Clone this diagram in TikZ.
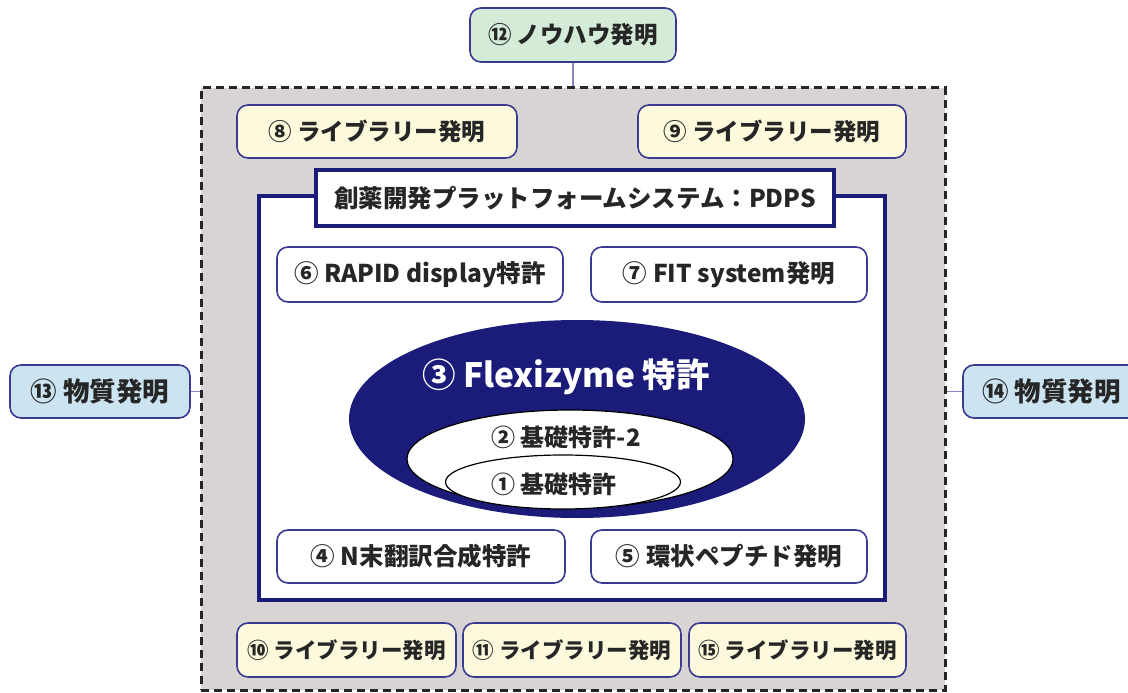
\documentclass[tikz,border=0pt]{standalone}
\usepackage{fontspec}
\setmainfont{Noto Sans CJK JP}
\usetikzlibrary{shapes.geometric}
\definecolor{navy}{HTML}{1B1B7A}
\definecolor{boxline}{HTML}{3A3A90}
\definecolor{grayfill}{HTML}{D8D4D4}
\definecolor{yel}{HTML}{FDF9DC}
\definecolor{grn}{HTML}{D4EBD8}
\definecolor{blu}{HTML}{CCE4F2}
\definecolor{conn}{HTML}{8A86C4}
\tikzset{
  box/.style={draw=boxline, line width=1.6pt, rounded corners=11pt, inner sep=0pt, font=\fontsize{23.5}{26}\selectfont\bfseries, text=black!85},
  libbox/.style={box, fill=yel, minimum height=53pt},
  inbox/.style={box, fill=white, minimum height=55pt, font=\fontsize{24.5}{27}\selectfont\bfseries},
  lowbox/.style={libbox, minimum height=54pt, font=\fontsize{21.5}{24}\selectfont\bfseries},
  sidebox/.style={box, fill=blu, minimum height=53pt, font=\fontsize{26.5}{29}\selectfont\bfseries},
  conline/.style={draw=conn, line width=1.3pt},
  elltext/.style={font=\fontsize{24}{27}\selectfont\bfseries, text=black!85},
}
\begin{document}
\begin{tikzpicture}[x=1pt,y=-1pt]
\useasboundingbox (0,0) rectangle (1128,693);
% outer dashed region
\node[draw=black!85, fill=grayfill, line width=3pt, dash pattern=on 8pt off 5pt, minimum width=744pt, minimum height=602pt, inner sep=0pt] (outer) at (573,389) {};
% PDPS frame
\node[draw=navy, fill=white, line width=4pt, minimum width=626pt, minimum height=404pt, inner sep=0pt] (frame) at (572,398) {};
\node[draw=navy, fill=white, line width=3.5pt, minimum width=518pt, minimum height=56pt, inner sep=0pt, font=\fontsize{24.5}{27}\selectfont\bfseries, text=black!85] (pdps) at (575,198) {創薬開発プラットフォームシステム：PDPS};
% top
\node[box, fill=grn, minimum width=206pt, minimum height=54pt] (n12) at (573,35) {⑫ ノウハウ発明};
% library boxes top
\node[libbox, minimum width=280pt] (n8) at (377,131.5) {⑧ ライブラリー発明};
\node[libbox, minimum width=268pt] (n9) at (772,131.5) {⑨ ライブラリー発明};
% inner boxes
\node[inbox, minimum width=286pt] (n6) at (420,274.5) {⑥ RAPID display特許};
\node[inbox, minimum width=276pt] (n7) at (729,274.5) {⑦ FIT system発明};
\node[inbox, minimum width=288pt, minimum height=53pt] (n4) at (421,556.5) {④ N末翻訳合成特許};
\node[inbox, minimum width=276pt, minimum height=53pt] (n5) at (729,556.5) {⑤ 環状ペプチド発明};
% ellipses
\node[ellipse, fill=navy, minimum width=456pt, minimum height=198pt, inner sep=0pt] (n3) at (577,419) {};
\node[font=\fontsize{33.5}{36}\selectfont\bfseries, text=white] (t3) at (566,377) {③ Flexizyme 特許};
\node[ellipse, draw=black, fill=white, line width=1.2pt, minimum width=326pt, minimum height=98pt, inner sep=0pt] (n2) at (570,459) {};
\node[elltext] (t2) at (566,437) {② 基礎特許-2};
\node[ellipse, draw=black, fill=white, line width=1.2pt, minimum width=235pt, minimum height=54pt, inner sep=0pt] (n1) at (563,482) {};
\node[elltext] (t1) at (554,484) {① 基礎特許};
% bottom library boxes
\node[lowbox, minimum width=219pt] (n10) at (346.5,650) {⑩ ライブラリー発明};
\node[lowbox, minimum width=218pt] (n11) at (572,650) {⑪ ライブラリー発明};
\node[lowbox, minimum width=217pt] (n15) at (797.5,650) {⑮ ライブラリー発明};
% side boxes
\node[sidebox, minimum width=180pt] (n13) at (100,391.5) {⑬ 物質発明};
\node[sidebox, minimum width=177pt] (n14) at (1051.5,391.5) {⑭ 物質発明};
% connectors
\draw[conline] (n12.south) -- (n12.south |- outer.north);
\draw[conline] (n13.east) -- (n13.east -| outer.west);
\draw[conline] (n14.west) -- (n14.west -| outer.east);
\end{tikzpicture}
\end{document}
